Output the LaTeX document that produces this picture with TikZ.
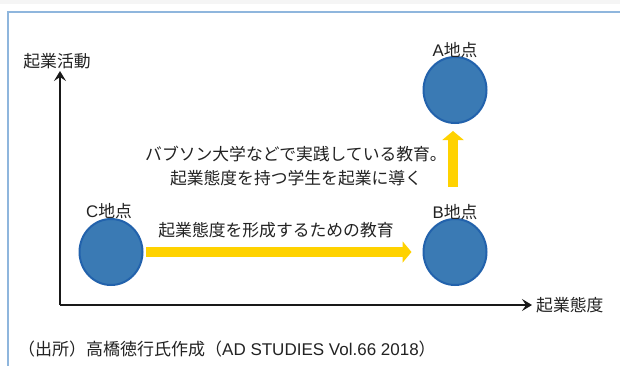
\documentclass[tikz,border=0pt]{standalone}
\usepackage{fontspec}
\setmainfont{Noto Sans CJK JP}
\newfontfamily\latinsans{Liberation Sans}
\usetikzlibrary{arrows.meta,shapes.geometric}
\definecolor{frameblue}{HTML}{8FB6DD}
\definecolor{dotfill}{HTML}{3A7AB4}
\definecolor{dotline}{HTML}{2262AC}
\definecolor{arrowyellow}{HTML}{FFD200}
\definecolor{inkgray}{HTML}{222222}
\begin{document}
\begin{tikzpicture}[x=1pt,y=-1pt,
  dot/.style={draw=dotline,fill=dotfill,line width=2pt,ellipse,minimum width=63pt,minimum height=66pt,inner sep=0pt},
  txt/.style={inner sep=0pt,font=\fontsize{16.8pt}{20pt}\selectfont,text=inkgray},
  captxt/.style={inner sep=0pt,font=\fontsize{17pt}{20pt}\selectfont,text=inkgray},
  axis/.style={line width=2.2pt,draw=black!90,-{Stealth[length=10pt,width=12pt,inset=4pt]}},
  yarrow/.style={line width=9.5pt,draw=arrowyellow,-{Triangle[length=9pt,width=21pt]}},
  frameline/.style={line width=2pt,draw=frameblue}]
\useasboundingbox (0,0) rectangle (620,365);
\fill[white] (0,0) rectangle (620,365);
\fill[black!4] (0,0) rectangle (620,4);
\draw[frameline] (8,370) -- (8,12) -- (626,12);
% axes
\coordinate (O) at (60,305);
\coordinate (ytip) at (60,71);
\coordinate (xtip) at (532,305);
\draw[axis] (O) -- (ytip);
\draw[axis] (O) -- (xtip);
\node[txt] (ylab) at (57,61) {起業活動};
\node[txt,anchor=west] (xlab) at (536,305) {起業態度};
% points
\node[dot] (A) at (455,90) {};
\node[dot] (B) at (455,252) {};
\node[dot] (C) at (111,252) {};
\node[txt] (la) at (455,50) {{\latinsans A}地点};
\node[txt] (lb) at (455,212) {{\latinsans B}地点};
\node[txt] (lc) at (109,211) {{\latinsans C}地点};
% yellow arrows
\draw[yarrow,shorten <=2.5pt,shorten >=11pt] (C.east) -- (B.west);
\coordinate (vstart) at (453,187);
\draw[yarrow,shorten >=7pt] (vstart) -- (vstart |- A.south);
% texts
\node[txt] (t1) at (276,230) {起業態度を形成するための教育};
\node[txt] (t2) at (296,154) {バブソン大学などで実践している教育。};
\node[txt] (t3) at (296,178) {起業態度を持つ学生を起業に導く};
\node[captxt,anchor=west] (cap) at (18,349) {（出所）高橋徳行氏作成（{\latinsans AD STUDIES Vol.66 2018}）};
\end{tikzpicture}
\end{document}
